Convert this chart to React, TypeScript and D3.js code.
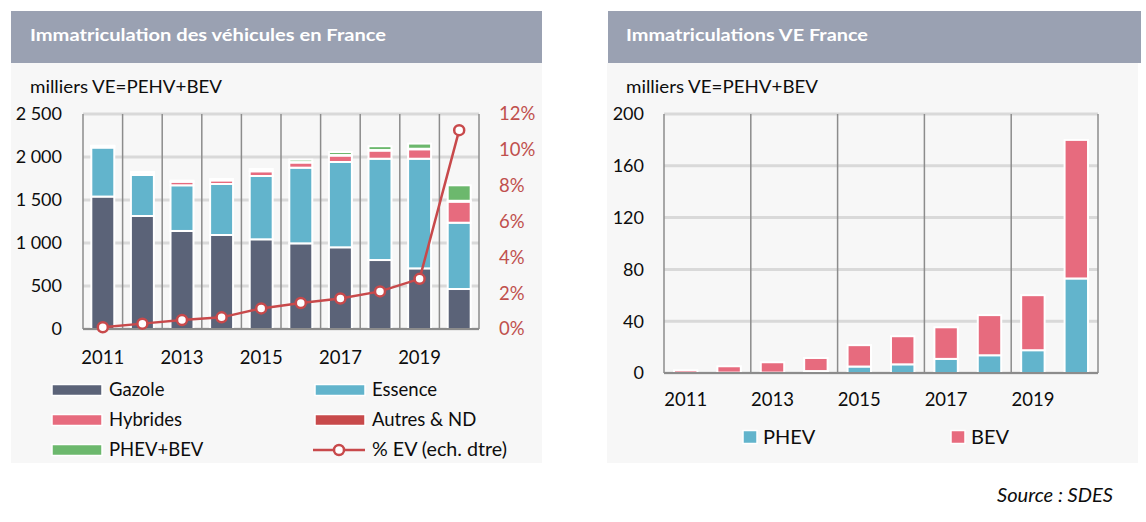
import React from "react";
import * as d3 from "d3";

const years = [2011, 2012, 2013, 2014, 2015, 2016, 2017, 2018, 2019, 2020];
const yearLabels = ["2011", "2013", "2015", "2017", "2019"];

// Left chart (milliers)
const gazole = [1540, 1314, 1140, 1093, 1043, 996, 950, 802, 705, 465];
const essence = [570, 477, 531, 593, 736, 880, 992, 1178, 1275, 771];
const hybrides = [14, 25, 42, 42, 55, 60, 75, 95, 110, 245];
const autres = [5, 5, 5, 5, 5, 5, 6, 6, 6, 10];
const phevBev = [2, 5, 8, 12, 22, 28, 35, 45, 60, 180];
const pctEV = [0.1, 0.3, 0.5, 0.65, 1.15, 1.45, 1.7, 2.1, 2.8, 11.1];
const leftTicks = [0, 500, 1000, 1500, 2000, 2500];
const pctTicks = [0, 2, 4, 6, 8, 10, 12];

// Right chart (milliers)
const phev = [0.1, 0.3, 0.3, 1.5, 5, 6.7, 10.9, 13.7, 17.6, 73];
const bev = [2.0, 4.9, 8.0, 10.1, 16.5, 21.7, 24.4, 31, 42.5, 107];
const rightTicks = [0, 40, 80, 120, 160, 200];

const leftSeries = [
  { name: "Gazole", values: gazole, color: "#5b6378" },
  { name: "Essence", values: essence, color: "#62b4cc" },
  { name: "Hybrides", values: hybrides, color: "#e76b7e" },
  { name: "Autres & ND", values: autres, color: "#c84a4b" },
  { name: "PHEV+BEV", values: phevBev, color: "#6cb86d" },
];
const rightSeries = [
  { name: "PHEV", values: phev, color: "#62b4cc" },
  { name: "BEV", values: bev, color: "#e76b7e" },
];

const FONT = "Lato, 'Open Sans', sans-serif";
const LINE_RED = "#c8494b";
const PCT_RED = "#c0504d";
const GRID = "#d9d9d9";
const AXIS = "#8c8c8c";
const TXT = "#0d0d0d";

const fmtThousands = (v: number) => d3.format(",")(v).replace(/,/g, " ");

function stackSeries(series: { name: string; values: number[] }[]) {
  const rows = years.map((y, i) => {
    const r: any = { year: y };
    series.forEach((s) => (r[s.name] = s.values[i]));
    return r;
  });
  return d3.stack<any>().keys(series.map((s) => s.name))(rows);
}

function LeftChart() {
  const x0 = 83, x1 = 479, y0 = 329, y1 = 114;
  const x = d3.scaleBand<number>().domain(years).range([x0, x1]).paddingInner(0.42).paddingOuter(0.21);
  const xb = d3.scaleBand<number>().domain(years).range([x0, x1]);
  const y = d3.scaleLinear().domain([0, 2500]).range([y0, y1]);
  const yp = d3.scaleLinear().domain([0, 12]).range([y0, y1]);
  const stacked = stackSeries(leftSeries);
  const line = d3
    .line<number>()
    .x((_, i) => (xb(years[i]) as number) + xb.bandwidth() / 2)
    .y((d) => yp(d));
  return (
    <g>
      <rect x={11} y={11} width={531} height={52} fill="#9aa1b2" />
      <rect x={11} y={63} width={531} height={400} fill="#f7f7f7" />
      <text x={30} y={41} fill="#fff" fontFamily={FONT} fontWeight="bold" fontSize={17.5} textLength={356} lengthAdjust="spacingAndGlyphs">
        Immatriculation des véhicules en France
      </text>
      <text x={30} y={93} fill={TXT} fontFamily={FONT} fontSize={18} textLength={192} lengthAdjust="spacingAndGlyphs">
        milliers VE=PEHV+BEV
      </text>
      {leftTicks.map((t) => (
        <line key={"g" + t} x1={x0} x2={x1} y1={y(t)} y2={y(t)} stroke={GRID} strokeWidth={3} />
      ))}
      {years.map((yr) => (
        <line key={"v" + yr} x1={xb(yr)} x2={xb(yr)} y1={y1} y2={y0} stroke={AXIS} strokeWidth={1.5} />
      ))}
      <line x1={x1} x2={x1} y1={y1} y2={y0} stroke={AXIS} strokeWidth={1.5} />
      {stacked.map((layer, li) => (
        <g key={layer.key}>
          {layer.map((d, i) => (
            <rect
              key={i}
              x={x(years[i])}
              width={x.bandwidth()}
              y={y(d[1])}
              height={Math.max(0, y(d[0]) - y(d[1]))}
              fill={leftSeries[li].color}
              stroke="#fff"
              strokeWidth={2}
            />
          ))}
        </g>
      ))}
      <line x1={x0} x2={x1} y1={y0} y2={y0} stroke={AXIS} strokeWidth={2} />
      <path d={line(pctEV) as string} fill="none" stroke={LINE_RED} strokeWidth={2.5} />
      {pctEV.map((v, i) => (
        <circle key={i} cx={(xb(years[i]) as number) + xb.bandwidth() / 2} cy={yp(v)} r={5} fill="#fff" stroke={LINE_RED} strokeWidth={2.5} />
      ))}
      {leftTicks.map((t) => (
        <text key={"l" + t} x={62} y={y(t)} dy="0.35em" textAnchor="end" fontFamily={FONT} fontSize={18} fill={TXT}>
          {fmtThousands(t)}
        </text>
      ))}
      {pctTicks.map((t) => (
        <text key={"p" + t} x={499} y={yp(t)} dy="0.35em" fontFamily={FONT} fontSize={18.5} fill={PCT_RED}>
          {t + "%"}
        </text>
      ))}
      {yearLabels.map((l) => (
        <text key={l} x={(xb(+l) as number) + xb.bandwidth() / 2} y={358} dy="0.35em" textAnchor="middle" fontFamily={FONT} fontSize={18.5} fill={TXT}>
          {l}
        </text>
      ))}
      {leftSeries.map((s, i) => {
        const col = i % 2, row = Math.floor(i / 2);
        const lx = col === 0 ? 52 : 315;
        const ly = 390 + row * 30;
        return (
          <g key={s.name}>
            <rect x={lx} y={ly - 5.5} width={50} height={11} fill={s.color} stroke="#fff" strokeWidth={1.5} />
            <text x={lx + 57} y={ly} dy="0.35em" fontFamily={FONT} fontSize={18.5} fill={TXT}>
              {s.name}
            </text>
          </g>
        );
      })}
      <g>
        <line x1={313} x2={365} y1={450} y2={450} stroke={LINE_RED} strokeWidth={2.5} />
        <circle cx={339} cy={450} r={5} fill="#fff" stroke={LINE_RED} strokeWidth={2.5} />
        <text x={372} y={450} dy="0.35em" fontFamily={FONT} fontSize={18.5} fill={TXT} textLength={135} lengthAdjust="spacingAndGlyphs">
          % EV (ech. dtre)
        </text>
      </g>
    </g>
  );
}

function RightChart() {
  const x0 = 664, x1 = 1098, y0 = 373, y1 = 114;
  const x = d3.scaleBand<number>().domain(years).range([x0, x1]).paddingInner(0.46).paddingOuter(0.23);
  const xb = d3.scaleBand<number>().domain(years).range([x0, x1]);
  const y = d3.scaleLinear().domain([0, 200]).range([y0, y1]);
  const stacked = stackSeries(rightSeries);
  return (
    <g>
      <rect x={608} y={11} width={533} height={52} fill="#9aa1b2" />
      <rect x={607} y={63} width={531} height={400} fill="#f7f7f7" />
      <text x={626} y={41} fill="#fff" fontFamily={FONT} fontWeight="bold" fontSize={17.5} textLength={242} lengthAdjust="spacingAndGlyphs">
        Immatriculations VE France
      </text>
      <text x={626} y={93} fill={TXT} fontFamily={FONT} fontSize={18} textLength={192} lengthAdjust="spacingAndGlyphs">
        milliers VE=PEHV+BEV
      </text>
      {rightTicks.map((t) => (
        <line key={"g" + t} x1={x0} x2={x1} y1={y(t)} y2={y(t)} stroke={GRID} strokeWidth={3} />
      ))}
      {years.filter((_, i) => i % 2 === 0).map((yr) => (
        <line key={"v" + yr} x1={xb(yr)} x2={xb(yr)} y1={y1} y2={y0} stroke={AXIS} strokeWidth={1.5} />
      ))}
      <line x1={x1} x2={x1} y1={y1} y2={y0} stroke={AXIS} strokeWidth={1.5} />
      {stacked.map((layer, li) => (
        <g key={layer.key}>
          {layer.map((d, i) => (
            <rect
              key={i}
              x={x(years[i])}
              width={x.bandwidth()}
              y={y(d[1])}
              height={Math.max(0, y(d[0]) - y(d[1]))}
              fill={rightSeries[li].color}
              stroke="#fff"
              strokeWidth={2}
            />
          ))}
        </g>
      ))}
      <line x1={x0} x2={x1} y1={y0} y2={y0} stroke={AXIS} strokeWidth={2} />
      {rightTicks.map((t) => (
        <text key={"l" + t} x={644} y={y(t)} dy="0.35em" textAnchor="end" fontFamily={FONT} fontSize={18} fill={TXT}>
          {t}
        </text>
      ))}
      {yearLabels.map((l) => (
        <text key={l} x={(xb(+l) as number) + xb.bandwidth() / 2} y={400} dy="0.35em" textAnchor="middle" fontFamily={FONT} fontSize={18.5} fill={TXT}>
          {l}
        </text>
      ))}
      {rightSeries.map((s, i) => {
        const lx = i === 0 ? 743 : 951;
        return (
          <g key={s.name}>
            <rect x={lx} y={430.5} width={14} height={13} fill={s.color} stroke="#fff" strokeWidth={1.5} />
            <text x={lx + 20} y={437} dy="0.35em" fontFamily={FONT} fontSize={20} fill={TXT}>
              {s.name}
            </text>
          </g>
        );
      })}
    </g>
  );
}

export default function App() {
  return (
    <svg width={1146} height={522} style={{ position: "absolute", left: 0, top: 0, background: "#fff" }}>
      <LeftChart />
      <RightChart />
      <text x={1113} y={495} dy="0.35em" textAnchor="end" fontFamily={FONT} fontStyle="italic" fontSize={19} fill={TXT} textLength={116} lengthAdjust="spacingAndGlyphs">
        Source : SDES
      </text>
    </svg>
  );
}
